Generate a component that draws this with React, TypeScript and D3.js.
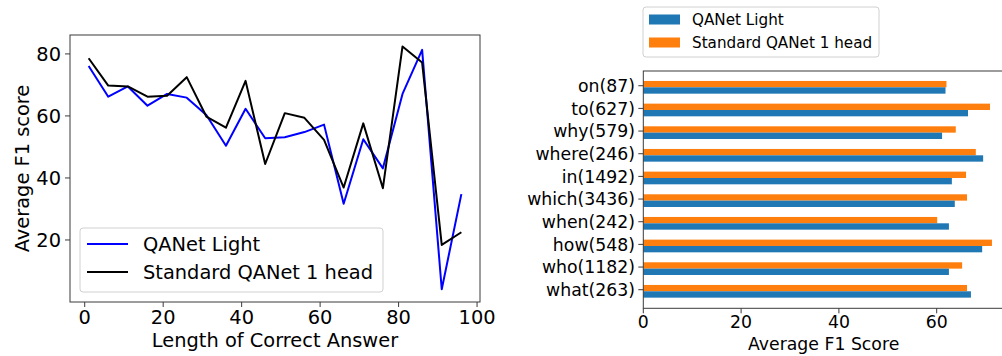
import React from "react";
import * as d3 from "d3";

// left chart: F1 vs answer length
const answerLengths = [1, 6, 11, 16, 21, 26, 31, 36, 41, 46, 51, 56, 61, 66, 71, 76, 81, 86, 91, 96];
const lightF1 = [76.1, 66.2, 69.5, 63.3, 67.1, 65.9, 60.3, 50.4, 62.3, 52.8, 53.1, 54.8, 57.2, 31.7, 52.5, 43.1, 67.1, 81.3, 4.1, 34.8];
const standardF1 = [78.6, 69.8, 69.5, 66.2, 66.5, 72.5, 59.8, 56.2, 71.3, 44.5, 60.9, 59.4, 52.3, 36.9, 57.6, 36.7, 82.4, 77.2, 18.4, 22.5];
const lengthTicks = [0, 20, 40, 60, 80, 100];
const scoreTicks = [20, 40, 60, 80];

// right chart: F1 by question word (bottom to top)
const questionWords = ["what(263)", "who(1182)", "how(548)", "when(242)", "which(3436)", "in(1492)", "where(246)", "why(579)", "to(627)", "on(87)"];
const lightByWord = [67.0, 62.5, 69.3, 62.5, 63.7, 63.1, 69.5, 61.1, 66.4, 61.8];
const standardByWord = [66.2, 65.2, 71.3, 60.1, 66.2, 66.0, 68.0, 63.9, 70.9, 62.0];
const barTicks = [0, 20, 40, 60];

const FONT = "DejaVu Sans, sans-serif";
const SPINE = "#3a3a3a";
const BLUE = "#1f77b4";
const ORANGE = "#ff7f0e";

const App = () => {
  // left axes
  const L = { left: 70, right: 480, top: 35, bottom: 302 };
  const x = d3.scaleLinear().domain([-3.75, 100.75]).range([L.left, L.right]);
  const y = d3.scaleLinear().domain([0, 86.1]).range([L.bottom, L.top]);
  const line = d3
    .line<number>()
    .x((_, i) => x(answerLengths[i]))
    .y(d => y(d));

  // right axes
  const R = { left: 643.3, right: 1012, top: 71, bottom: 308.3 };
  const xb = d3.scaleLinear().domain([0, 75.4]).range([R.left, R.right]);
  const yb = d3.scaleLinear().domain([-0.75, 9.72]).range([R.bottom, R.top]);
  const barH = yb(0) - yb(0.28);

  return (
    <div style={{ position: "absolute", left: 0, top: 0 }}>
      <svg width={1002} height={356} style={{ display: "block", fontFamily: FONT }}>
        <rect width={1002} height={356} fill="#fff" />

        {/* ---------- left chart ---------- */}
        <path d={line(lightF1) ?? ""} fill="none" stroke="#0000ff" strokeWidth={2} strokeLinejoin="round" />
        <path d={line(standardF1) ?? ""} fill="none" stroke="#000" strokeWidth={2} strokeLinejoin="round" />
        <rect x={L.left} y={L.top} width={L.right - L.left} height={L.bottom - L.top} fill="none" stroke={SPINE} strokeWidth={1} />

        {lengthTicks.map(t => (
          <g key={t}>
            <line x1={x(t)} x2={x(t)} y1={L.bottom} y2={L.bottom + 5} stroke={SPINE} />
            <text x={x(t)} y={324} fontSize={19.4} textAnchor="middle" fill="#000">{t}</text>
          </g>
        ))}
        {scoreTicks.map(t => (
          <g key={t}>
            <line x1={L.left - 5} x2={L.left} y1={y(t)} y2={y(t)} stroke={SPINE} />
            <text x={61} y={y(t)} dy="0.36em" fontSize={19.4} textAnchor="end" fill="#000">{t}</text>
          </g>
        ))}
        <text x={(L.left + L.right) / 2} y={347} fontSize={19.4} textAnchor="middle">Length of Correct Answer</text>
        <text transform={`translate(29, ${(L.top + L.bottom) / 2}) rotate(-90)`} fontSize={19.4} textAnchor="middle">Average F1 score</text>

        <rect x={80} y={228} width={303} height={64} rx={3} fill="#fff" fillOpacity={0.8} stroke="#d0d0d0" />
        <line x1={87} x2={128} y1={244} y2={244} stroke="#0000ff" strokeWidth={2} />
        <text x={143} y={244} dy="0.36em" fontSize={19.4}>QANet Light</text>
        <line x1={87} x2={128} y1={272} y2={272} stroke="#000" strokeWidth={2} />
        <text x={143} y={272} dy="0.36em" fontSize={19.4}>Standard QANet 1 head</text>

        {/* ---------- right chart ---------- */}
        {questionWords.map((w, i) => (
          <g key={w}>
            <rect x={xb(0)} y={yb(i + 0.28)} width={xb(standardByWord[i]) - xb(0)} height={barH} fill={ORANGE} />
            <rect x={xb(0)} y={yb(i)} width={xb(lightByWord[i]) - xb(0)} height={barH} fill={BLUE} />
            <line x1={R.left - 5} x2={R.left} y1={yb(i + 0.07)} y2={yb(i + 0.07)} stroke={SPINE} />
            <text x={635} y={yb(i + 0.07)} dy="0.36em" fontSize={17.3} textAnchor="end">{w}</text>
          </g>
        ))}
        <rect x={R.left} y={R.top} width={R.right - R.left} height={R.bottom - R.top} fill="none" stroke={SPINE} strokeWidth={1} />
        {barTicks.map(t => (
          <g key={t}>
            <line x1={xb(t)} x2={xb(t)} y1={R.bottom} y2={R.bottom + 5} stroke={SPINE} />
            <text x={xb(t)} y={328} fontSize={17.3} textAnchor="middle">{t}</text>
          </g>
        ))}
        <text x={(R.left + 1002) / 2 + 1} y={350} fontSize={17.3} textAnchor="middle">Average F1 Score</text>

        <rect x={643} y={7} width={236} height={50} rx={3} fill="#fff" fillOpacity={0.8} stroke="#d0d0d0" />
        <rect x={649} y={14.5} width={31} height={10} fill={BLUE} />
        <text x={692} y={19.5} dy="0.36em" fontSize={15.2}>QANet Light</text>
        <rect x={649} y={37.5} width={31} height={10} fill={ORANGE} />
        <text x={692} y={42.5} dy="0.36em" fontSize={15.2}>Standard QANet 1 head</text>
      </svg>
    </div>
  );
};

export default App;
